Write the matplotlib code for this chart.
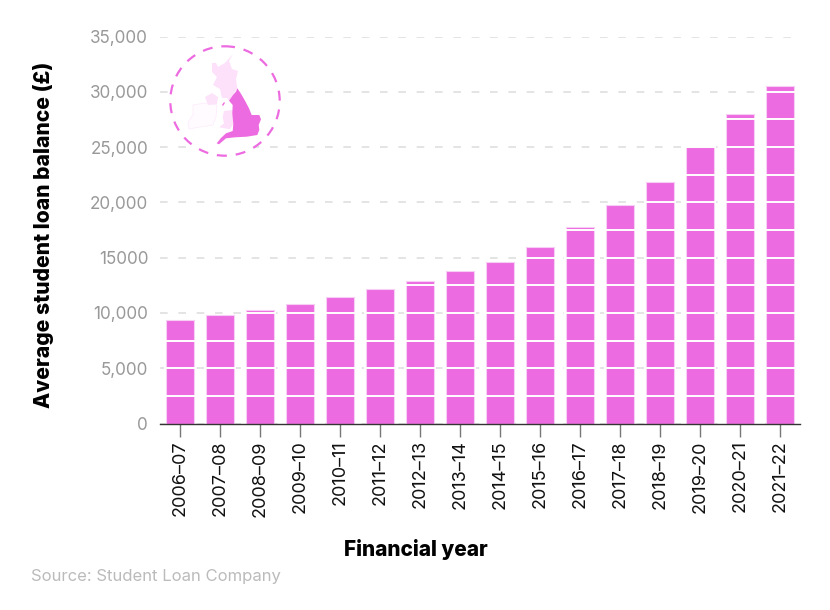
import numpy as np
import matplotlib
matplotlib.use('Agg')
import matplotlib.pyplot as plt
from matplotlib.patches import Polygon, Circle

plt.rcParams['font.family'] = ['Inter', 'DejaVu Sans']

# values
years = ['2006–07', '2007–08', '2008–09', '2009–10', '2010–11', '2011–12', '2012–13', '2013–14',
         '2014–15', '2015–16', '2016–17', '2017–18', '2018–19', '2019–20', '2020–21', '2021–22']
balance = [9360, 9810, 10260, 10800, 11440, 12120, 12880, 13790,
           14600, 16000, 17770, 19750, 21840, 25050, 27990, 30500]
y_ticks = [0, 5000, 10000, 15000, 20000, 25000, 30000, 35000]
y_tick_labels = ['0', '5,000', '10,000', '15000', '20,000', '25,000', '30,000', '35,000']

# rough map outlines, in pixels of the 830x610 picture
england = [(237.3, 88.3), (240.7, 93.3), (245, 100.7), (249, 108.3), (251.7, 115), (259.3, 115), (261, 119.3),
           (258.7, 125), (259.3, 130), (257.3, 135), (246.7, 136.7), (235, 137.3), (226, 138.3), (219, 144.3),
           (216.7, 143.3), (220.7, 138.3), (226, 133.3), (232.7, 131), (233.3, 124), (232.3, 113.3),
           (232.7, 105), (229, 100.7), (233, 95), (236, 91.7)]
scotland = [(233, 54), (229, 61), (232, 69), (238, 71), (236, 79), (237.3, 88.3), (233, 95), (229, 100.7),
            (227, 98), (222, 98), (220, 89), (213, 85), (217, 77), (212, 72), (212, 63), (216, 63),
            (218, 67), (225, 63)]
wales = [(224, 111), (232.7, 110), (233.3, 124), (230, 129.3), (219.3, 127.3), (224, 123.3), (222.7, 117.3)]
n_ireland = [(205, 97), (212, 93), (218, 97), (217, 104), (208, 105)]
ireland = [(193, 105), (205, 103), (217, 105), (216, 117), (213, 125), (200, 127), (189, 129), (188, 122), (193, 115)]
man = [(222, 105), (224, 102), (225, 103), (223, 106)]

PINK = '#ED6BE0'

fig = plt.figure(figsize=(8.3, 6.1), dpi=100)
ax = fig.add_axes([160 / 830, 1 - 423.5 / 610, 640 / 830, 387 / 610])

x = np.arange(len(years))
ax.grid(axis='y', color='#DDDDDD', linestyle=(0, (5, 7)), linewidth=1.1, zorder=1)
ax.set_axisbelow(True)
ax.bar(x, balance, width=0.72, color=PINK, edgecolor='#F8CFF4', linewidth=0.8, zorder=2)

# white bands every 2,500 across each bar
for i, b in enumerate(balance):
    levels = np.arange(2500, b, 2500)
    ax.hlines(levels, i - 0.4, i + 0.4, color='white', linewidth=1.4, zorder=3)

ax.set_xlim(-0.5, len(years) - 0.5)
ax.set_ylim(0, 35000)
ax.set_yticks(y_ticks)
ax.set_yticklabels(y_tick_labels, fontsize=12.3, color='#999999')
ax.set_xticks(x)
ax.set_xticklabels(years, rotation=90, fontsize=13, color='#111111')
ax.tick_params(axis='y', length=0, pad=8.5)
ax.tick_params(axis='x', length=9, width=1, color='#777777', pad=3)
for s in ['top', 'right', 'left']:
    ax.spines[s].set_visible(False)
ax.spines['bottom'].set_color('#333333')
ax.spines['bottom'].set_linewidth(1)
ax.spines['bottom'].set_zorder(5)

fig.text(43 / 830, 1 - 235 / 610, 'Average student loan balance (£)', rotation=90, fontsize=15.2,
         fontweight=800, color='black', ha='center', va='center')
fig.text(416 / 830, 1 - 549 / 610, 'Financial year', fontsize=15, fontweight=800, color='black',
         ha='center', va='center')
fig.text(31 / 830, 1 - 576 / 610, 'Source: Student Loan Company', fontsize=12, color='#BBBBBB',
         ha='left', va='center')

# map badge on its own overlay axes, pixel coordinates
ov = fig.add_axes([0, 0, 1, 1], facecolor='none')
ov.set_xlim(0, 830)
ov.set_ylim(610, 0)
ov.axis('off')
ov.add_patch(Circle((225, 101), 54.7, facecolor='white', edgecolor=PINK, linewidth=1.6,
                    linestyle=(0, (4.5, 4))))
ov.add_patch(Polygon(ireland, closed=True, facecolor='#FFFBFF', edgecolor='#FDEBFB', linewidth=0.5))
ov.add_patch(Polygon(n_ireland, closed=True, facecolor='#FDE3FA', edgecolor='none'))
ov.add_patch(Polygon(scotland, closed=True, facecolor='#FDE0FA', edgecolor='none'))
ov.add_patch(Polygon(wales, closed=True, facecolor='#FDE0FA', edgecolor='none'))
ov.add_patch(Polygon(england, closed=True, facecolor=PINK, edgecolor='none'))
ov.add_patch(Polygon(man, closed=True, facecolor=PINK, edgecolor='none'))

fig.savefig('out.png', dpi=100)
